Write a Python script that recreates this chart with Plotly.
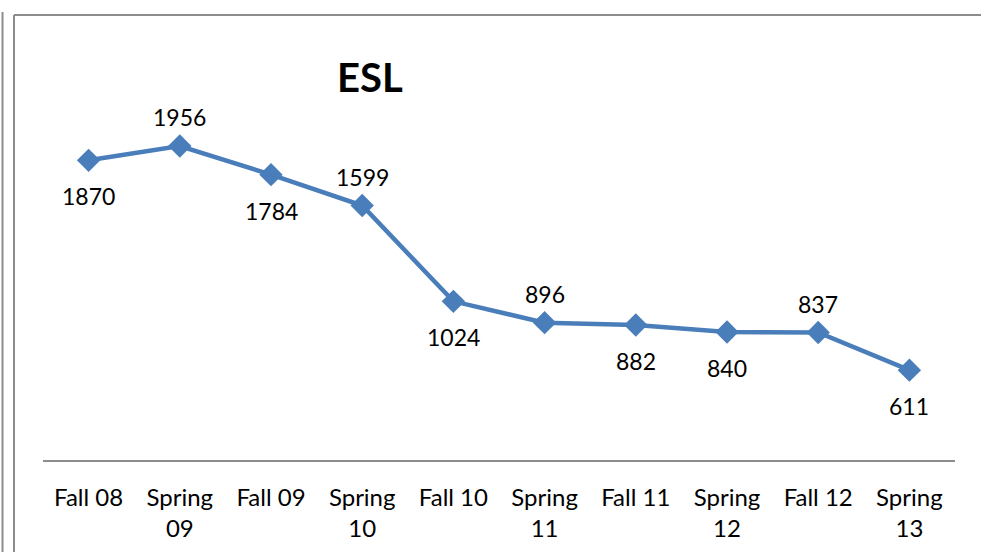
import plotly.graph_objects as go

terms = ["Fall 08", "Spring<br>09", "Fall 09", "Spring<br>10", "Fall 10",
         "Spring<br>11", "Fall 11", "Spring<br>12", "Fall 12", "Spring<br>13"]
enrollment = [1870, 1956, 1784, 1599, 1024, 896, 882, 840, 837, 611]
label_above = [False, True, False, True, False, True, False, False, True, False]

W, H = 981, 552
FONT = "Lato, Carlito, sans-serif"
fig = go.Figure()
fig.add_trace(go.Scatter(
    x=terms, y=enrollment, mode="lines+markers",
    line=dict(color="#4A7EBB", width=4.5),
    marker=dict(symbol="diamond", size=18, color="#4A7EBB"),
    hoverinfo="x+y", showlegend=False,
))

for t, v, up in zip(terms, enrollment, label_above):
    fig.add_annotation(x=t, y=v, text=str(v), showarrow=False,
                       yshift=29 if up else -36,
                       font=dict(family=FONT, size=23, color="#000000"))

fig.add_annotation(xref="paper", yref="paper", x=370 / W, y=1 - 77 / H,
                   xanchor="center", yanchor="middle",
                   text="<b>ESL</b>", showarrow=False,
                   font=dict(family=FONT, size=40, color="#000000"))

# chart frame lines
frame = dict(color="#8C8C8C", width=2)
fig.add_shape(type="line", xref="paper", yref="paper",
              x0=14 / W, x1=1.01, y0=1 - 15 / H, y1=1 - 15 / H, line=frame)
fig.add_shape(type="line", xref="paper", yref="paper",
              x0=14 / W, x1=14 / W, y0=1 - 15 / H, y1=-0.01, line=frame)
fig.add_shape(type="line", xref="paper", yref="paper",
              x0=2.5 / W, x1=2.5 / W, y0=1 - 12 / H, y1=-0.01, line=frame)

fig.update_layout(
    width=W, height=H,
    margin=dict(l=0, r=0, t=0, b=0),
    paper_bgcolor="white", plot_bgcolor="white",
    xaxis=dict(domain=[43 / W, 955 / W], type="category", range=[-0.5, 9.5],
               showline=True, linecolor="#8C8C8C", linewidth=1.5,
               showgrid=False, zeroline=False, ticks="",
               ticklabelstandoff=15,
               tickfont=dict(family=FONT, size=24, color="#000000")),
    yaxis=dict(domain=[1 - 460 / H, 1 - 40 / H], range=[72, 2592],
               visible=False, showgrid=False, zeroline=False),
)

fig.write_html("out.html", config={"displayModeBar": False},
               post_script="document.body.style.margin='0px';")
